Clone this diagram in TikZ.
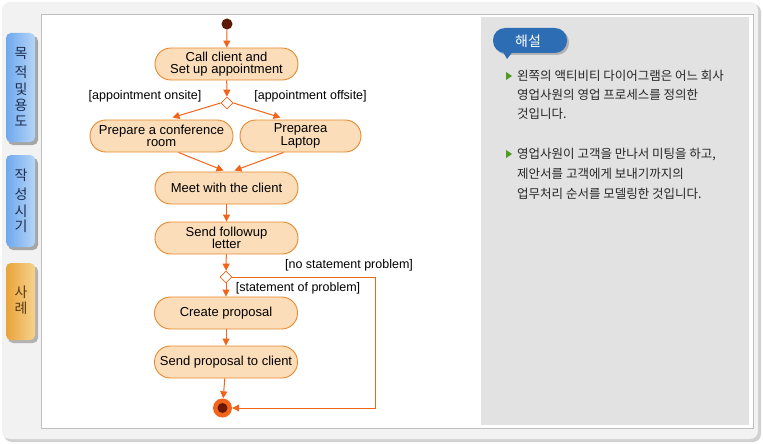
\documentclass[tikz,border=0pt]{standalone}
\usepackage{fontspec}
\setmainfont{Liberation Sans}
\newfontfamily\kr{Noto Sans CJK KR}
\usetikzlibrary{arrows.meta,shapes.geometric}
\definecolor{boxfill}{HTML}{FBDDBA}
\definecolor{boxline}{HTML}{E8892B}
\definecolor{arr}{HTML}{F2641A}
\definecolor{dotc}{HTML}{5A1A05}
\definecolor{pane}{HTML}{E2E2E2}
\definecolor{bubble}{HTML}{2C6DB4}
\definecolor{bullet}{HTML}{4E9A22}
\definecolor{tabtext}{HTML}{1E2D50}
\definecolor{tabbrown}{HTML}{5A3A10}
\definecolor{tabblueL}{HTML}{6EA8EC}
\definecolor{tabblueR}{HTML}{B5D5F7}
\definecolor{taborL}{HTML}{E9A43A}
\definecolor{taborR}{HTML}{F6D28E}
\tikzset{
  act/.style={draw=boxline, fill=boxfill, rounded corners=15.8pt, minimum width=143pt,
    minimum height=32pt, align=center, inner sep=1pt, line width=0.9pt,
    font=\fontsize{13}{12.5}\selectfont},
  dia/.style={diamond, draw=arr, fill=white, minimum width=12pt, minimum height=12pt,
    inner sep=0pt, line width=0.8pt},
  startdot/.style={circle, fill=dotc, minimum size=11pt, inner sep=0pt},
  flow/.style={draw=arr, line width=1pt, -{Triangle[length=7pt,width=7pt]}},
  lbl/.style={font=\fontsize{12.5}{12.5}\selectfont, inner sep=0pt},
  body/.style={font=\kr\fontsize{12.5}{19}\selectfont, anchor=west, inner sep=0pt, text=black!85},
  tabtxt/.style={font=\kr\fontsize{14}{14}\selectfont, inner sep=0pt},
}
\begin{document}
\begin{tikzpicture}[x=1pt,y=-1pt]
\useasboundingbox (0,0) rectangle (763,444);
% outer frame
\fill[white] (0,0) rectangle (763,444);
\fill[black!18, rounded corners=8pt] (4,4) rectangle (761,442);
\fill[black!5, rounded corners=8pt] (2,2) rectangle (758,439);
\fill[white] (41,14) rectangle (753,428);
\draw[black!25, line width=0.8pt] (41,14) rectangle (753,428);
\fill[pane] (481,17) rectangle (749,425);
% tabs
\fill[black!35, rounded corners=5pt] (8,36) rectangle (38,145);
\shade[left color=tabblueL, right color=tabblueR, rounded corners=5pt] (6,33) rectangle (35,142);
\fill[black!35, rounded corners=5pt] (8,158) rectangle (38,250);
\shade[left color=tabblueL, right color=tabblueR, rounded corners=5pt] (6,155) rectangle (35,247);
\fill[black!30, rounded corners=5pt] (8,266) rectangle (38,343);
\shade[left color=taborL, right color=taborR, rounded corners=5pt] (6,263) rectangle (35,340);
\node[tabtxt, text=tabtext] (t1a) at (21,54) {목};
\node[tabtxt, text=tabtext] (t1b) at (21,72) {적};
\node[tabtxt, text=tabtext] (t1c) at (21,89) {및};
\node[tabtxt, text=tabtext] (t1d) at (21,105) {용};
\node[tabtxt, text=tabtext] (t1e) at (21,121) {도};
\node[tabtxt, text=tabtext] (t2a) at (21,175) {작};
\node[tabtxt, text=tabtext] (t2b) at (21,194) {성};
\node[tabtxt, text=tabtext] (t2c) at (21,211) {시};
\node[tabtxt, text=tabtext] (t2d) at (21,226) {기};
\node[tabtxt, text=tabbrown] (t3a) at (21,292) {사};
\node[tabtxt, text=tabbrown] (t3b) at (21,308) {례};
% diagram
\node[startdot] (start) at (227,24) {};
\node[act] (call) at (226.5,64) {Call client and\\Set up appointment};
\node[dia] (d1) at (227,103) {};
\node[act] (conf) at (161.5,136) {Prepare a conference\\room};
\node[act, minimum width=121pt] (lap) at (300.5,136) {Preparea\\Laptop};
\node[act] (meet) at (226.5,188) {Meet with the client};
\node[act] (follow) at (226.5,238) {Send followup\\letter};
\node[dia] (d2) at (226,277) {};
\node[act] (create) at (226,313) {Create proposal};
\node[act] (send) at (226,362) {Send proposal to client};
\node[circle, fill=arr, minimum size=19pt, inner sep=0pt] (end) at (222.5,408) {};
\node[circle, fill=dotc!90!red, minimum size=10pt, inner sep=0pt] (endin) at (end.center) {};
\coordinate (c1) at (375,277);
\coordinate (c2) at (375,408);
\draw[flow] (start) -- (call);
\draw[flow] (call) -- (d1);
\draw[flow] (d1.west) -- ([xshift=11pt,yshift=2pt]conf.north);
\draw[flow] (d1.east) -- ([xshift=-20pt,yshift=2pt]lap.north);
\draw[flow] ([xshift=17pt]conf.south) -- ([xshift=-3pt,yshift=1pt]meet.north);
\draw[flow] ([xshift=-17pt]lap.south) -- ([xshift=8pt,yshift=1pt]meet.north);
\draw[flow] (meet) -- (follow);
\draw[flow] (follow) -- (d2);
\draw[flow] (d2) -- (create);
\draw[flow] (create) -- (send);
\draw[flow] (send) -- (end);
\draw[flow] (d2.east) -- (c1) -- (c2) -- (end.east);
\node[lbl] (l1) at (145,96) {[appointment onsite]};
\node[lbl] (l2) at (310.5,96) {[appointment offsite]};
\node[lbl] (l3) at (349,265) {[no statement problem]};
\node[lbl] (l4) at (298,288) {[statement of problem]};
% right pane
\fill[black!30, rounded corners=12pt] (495,30) rectangle (569,55);
\fill[bubble, rounded corners=12pt] (493,28) rectangle (567,53);
\fill[bubble] (502,50) -- (514,50) -- (507,59) -- cycle;
\node[font=\kr\fontsize{14}{14}\selectfont, text=white, inner sep=0pt] (hs) at (528,41) {해설};
\fill[bullet] (506,72) -- (512,76) -- (506,80) -- cycle;
\fill[bullet] (506,150) -- (512,154) -- (506,158) -- cycle;
\node[body] (p1a) at (517,76) {왼쪽의 액티비티 다이어그램은 어느 회사};
\node[body] (p1b) at (517,95) {영업사원의 영업 프로세스를 정의한};
\node[body] (p1c) at (517,114) {것입니다.};
\node[body] (p2a) at (517,155) {영업사원이 고객을 만나서 미팅을 하고,};
\node[body] (p2b) at (517,174) {제안서를 고객에게 보내기까지의};
\node[body] (p2c) at (517,194) {업무처리 순서를 모델링한 것입니다.};
\end{tikzpicture}
\end{document}
